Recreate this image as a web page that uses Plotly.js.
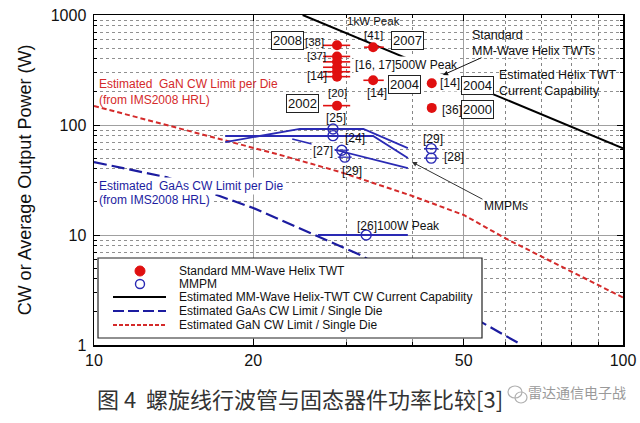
<!DOCTYPE html>
<html><head><meta charset="utf-8">
<script src="https://cdn.plot.ly/plotly-3.0.1.min.js"></script>
<style>html,body{margin:0;padding:0;background:#fff}#chart{width:640px;height:423px}</style>
</head><body><div id="chart"></div>
<script>
// ---------------- data ----------------
const xTickVals = [10, 20, 50, 100];
const xTickText = ['10', '20', '50', '100'];
const yTickVals = [1, 10, 100, 1000];
const yTickText = ['1', '10', '100', '1000'];
const xMinorVals = [30, 40, 60, 70, 80, 90];
const yMinorVals = [2,3,4,5,6,7,8,9,20,30,40,50,60,70,80,90,200,300,400,500,600,700,800,900];

// Estimated GaN CW limit / single die (red dashed)
const ganF = [10, 22.5, 29.2, 40, 50, 60, 100];
const ganP = [149, 53.4, 37.4, 22.6, 15.2, 9.3, 2.7];
// Estimated GaAs CW limit / single die (blue dashed)
const gaasF = [10, 13.7, 20, 22.5, 31.8, 54.4, 64.4];
const gaasP = [46, 33.6, 17.6, 13.7, 6.6, 1.58, 1.0];
// Estimated MM-Wave helix TWT CW current capability (black)
const helixF = [24.8, 100];
const helixP = [1000, 61.5];
// MMPM bands (blue solid)
const mmpmAF = [17.7, 24.5, 32.3, 39.2];
const mmpmAP = [70, 92, 92, 61.6];
const mmpmBF = [17.7, 33.7, 39.2];
const mmpmBP = [79.4, 79.4, 50];
const mmpmCF = [23.7, 39.2];
const mmpmCP = [74.6, 40.6];
const mmpm26F = [26.5, 39.2];
const mmpm26P = [10, 10];
// Standard MM-wave helix TWTs (red points, with frequency span)
const twtF = [28.8, 28.8, 28.8, 28.8, 28.8, 28.8, 33.7, 33.7, 28.8, 43.5, 43.5];
const twtP = [530, 420, 375, 335, 305, 275, 510, 255, 150, 240, 143];
const twtSpanMinus = [1.7, 1.7, 1.7, 1.7, 1.7, 1.7, 1.3, 1.4, 1.7, 0, 0];
const twtSpanPlus  = [1.7, 1.7, 1.7, 1.7, 1.7, 1.7, 1.6, 1.6, 1.7, 0, 0];
// MMPM points (blue open circles)
const mmpmF = [28.3, 28.3, 29.4, 29.8, 43.4, 43.4, 32.7];
const mmpmP = [92, 80, 59, 51, 61, 50, 10];
const mmpmSpan = [0.9, 0.9, 0.9, 0.9, 1.35, 1.35, 0];

// ---------------- layout helpers (pixel -> paper) ----------------
const L = 94, R = 623, T = 15, B = 345;
const px = p => (p - L) / (R - L);
const py = p => (B - p) / (B - T);
const FONT = 'Liberation Sans, Arial, Helvetica, sans-serif';
const RED = '#e01010', BLUE = '#2a2ab4', DBLUE = '#1c1ca0', GANRED = '#d42a2a';

const traces = [
  {x: ganF, y: ganP, mode: 'lines', line: {color: GANRED, width: 2, dash: '5px,3px'}, hoverinfo: 'skip'},
  {x: gaasF, y: gaasP, mode: 'lines', line: {color: DBLUE, width: 2.2, dash: '13px,5px'}, hoverinfo: 'skip'},
  {x: helixF, y: helixP, mode: 'lines', line: {color: '#000', width: 2}, hoverinfo: 'skip'},
  {x: mmpmAF, y: mmpmAP, mode: 'lines', line: {color: BLUE, width: 1.8}},
  {x: mmpmBF, y: mmpmBP, mode: 'lines', line: {color: BLUE, width: 1.8}},
  {x: mmpmCF, y: mmpmCP, mode: 'lines', line: {color: BLUE, width: 1.8}},
  {x: mmpm26F, y: mmpm26P, mode: 'lines', line: {color: BLUE, width: 1.8}},
  {x: twtF, y: twtP, mode: 'markers', marker: {color: RED, size: 10},
   error_x: {type: 'data', symmetric: false, array: twtSpanPlus, arrayminus: twtSpanMinus, color: RED, thickness: 1.6, width: 0}},
  {x: mmpmF, y: mmpmP, mode: 'markers', marker: {symbol: 'circle-open', color: BLUE, size: 10, line: {width: 1.4}},
   error_x: {type: 'data', array: mmpmSpan, color: BLUE, thickness: 1.3, width: 0}}
];

function txt(t, x, y, opt) {
  return Object.assign({xref: 'paper', yref: 'paper', x: px(x), y: py(y), text: t, showarrow: false,
    font: {family: FONT, size: 12, color: '#111'}, xanchor: 'center', yanchor: 'middle'}, opt || {});
}
function boxed(t, x, y) {
  return txt(t, x, y, {bordercolor: '#222', borderwidth: 1, borderpad: 1, bgcolor: '#fff', font: {family: FONT, size: 13, color: '#111'}});
}
const SM = {family: FONT, size: 11.5, color: '#111'};

const annotations = [
  txt('1kW Peak', 373, 21, {font: SM}),
  txt('[41]', 373, 35, {font: SM}),
  boxed('2007', 407, 41),
  boxed('2008', 287, 40),
  txt('[38]', 314, 42, {font: SM}),
  txt('[37]', 316, 56, {font: SM}),
  txt('[16, 17]500W Peak', 353, 65, {xanchor: 'left', bgcolor: '#fff'}),
  txt('[14]', 317, 76),
  txt('[14]', 377, 93),
  boxed('2004', 404, 84),
  boxed('2002', 302, 103),
  txt('[20]', 337, 93, {font: SM}),
  txt('[25]', 336, 118),
  txt('Standard<br>MM-Wave Helix TWTs', 470, 43, {xanchor: 'left', align: 'left', font: {family: FONT, size: 12.5, color: '#111'}}),
  txt('[14]', 450, 83, {bgcolor: '#fff'}),
  boxed('2004', 477, 85),
  txt('Estimated Helix TWT<br>Current Capability', 497, 83, {xanchor: 'left', align: 'left', font: {family: FONT, size: 12.5, color: '#111'}}),
  txt('[36]', 452, 110),
  boxed('2000', 477, 110),
  txt('Estimated  GaN CW Limit per Die<br>(from IMS2008 HRL)', 97, 92, {xanchor: 'left', align: 'left', font: {family: FONT, size: 12, color: GANRED}}),
  txt('Estimated  GaAs CW Limit per Die', 97, 186, {xanchor: 'left', bgcolor: '#fff', font: {family: FONT, size: 12, color: DBLUE}}),
  txt('(from IMS2008 HRL)', 97, 200, {xanchor: 'left', bgcolor: '#fff', font: {family: FONT, size: 12, color: DBLUE}}),
  txt('[24]', 355, 138),
  txt('[27]', 323, 151, {bgcolor: '#fff'}),
  txt('[29]', 352, 171),
  txt('[29]', 433, 139),
  txt('[28]', 454, 157),
  txt('MMPMs', 506, 206),
  txt('[26]100W Peak', 398, 226),
  // arrows
  {xref: 'paper', yref: 'paper', x: px(443), y: py(75), ax: 40, ay: -18,
   text: '', showarrow: true, arrowhead: 2, arrowsize: 1, arrowwidth: 1, arrowcolor: '#111'},
  {xref: 'paper', yref: 'paper', x: px(412), y: py(162), ax: 72, ay: 38,
   text: '', showarrow: true, arrowhead: 2, arrowsize: 1, arrowwidth: 1, arrowcolor: '#333'},
  // legend texts
  txt('Standard MM-Wave Helix TWT', 177, 271, {xanchor: 'left'}),
  txt('MMPM', 177, 284, {xanchor: 'left'}),
  txt('Estimated MM-Wave Helix-TWT CW Current Capability', 177, 297, {xanchor: 'left'}),
  txt('Estimated GaAs CW Limit / Single Die', 177, 311, {xanchor: 'left'}),
  txt('Estimated GaN CW Limit / Single Die', 177, 325, {xanchor: 'left'}),
  // caption & watermark
  txt('图 4  螺旋线行波管与固态器件功率比较[3]', 95, 398, {xanchor: 'left',
    font: {family: 'Noto Sans CJK SC, sans-serif', size: 22, color: '#333'}}),
  txt('雷达通信电子战', 577, 392, {font: {family: 'Noto Sans CJK SC, sans-serif', size: 14, color: '#9a9a9a'}})
];

const shapes = [
  // legend box
  {type: 'rect', xref: 'paper', yref: 'paper', x0: px(98), x1: px(482), y0: py(258), y1: py(338),
   fillcolor: '#fff', line: {color: '#222', width: 1.2}, layer: 'above'},
  {type: 'circle', xref: 'paper', yref: 'paper', x0: px(135), x1: px(145), y0: py(266), y1: py(276),
   fillcolor: RED, line: {color: RED, width: 1}, layer: 'above'},
  {type: 'circle', xref: 'paper', yref: 'paper', x0: px(135.5), x1: px(144.5), y0: py(279.5), y1: py(288.5),
   fillcolor: 'rgba(0,0,0,0)', line: {color: BLUE, width: 1.4}, layer: 'above'},
  {type: 'line', xref: 'paper', yref: 'paper', x0: px(113), x1: px(166), y0: py(297), y1: py(297),
   line: {color: '#000', width: 2}, layer: 'above'},
  {type: 'line', xref: 'paper', yref: 'paper', x0: px(113), x1: px(166), y0: py(311), y1: py(311),
   line: {color: DBLUE, width: 2.2, dash: '11px,4px'}, layer: 'above'},
  {type: 'line', xref: 'paper', yref: 'paper', x0: px(113), x1: px(166), y0: py(325), y1: py(325),
   line: {color: GANRED, width: 2, dash: '4px,2px'}, layer: 'above'},
  // watermark icon
  {type: 'circle', xref: 'paper', yref: 'paper', x0: px(508), x1: px(522), y0: py(386), y1: py(398),
   fillcolor: 'rgba(0,0,0,0)', line: {color: '#b0b0b0', width: 1.2}},
  {type: 'circle', xref: 'paper', yref: 'paper', x0: px(515), x1: px(527), y0: py(392), y1: py(403),
   fillcolor: 'rgba(0,0,0,0)', line: {color: '#b0b0b0', width: 1.2}}
];

const axisCommon = {
  type: 'log', showline: true, linecolor: '#000', linewidth: 1.5, mirror: 'allticks',
  ticks: 'inside', ticklen: 6, tickcolor: '#000', tickwidth: 1,
  showgrid: true, gridcolor: '#a0a0a0', gridwidth: 1, zeroline: false,
  tickfont: {family: FONT, size: 16, color: '#111'}, tickmode: 'array'
};

const layout = {
  width: 640, height: 423,
  margin: {l: L, r: 640 - R, t: T, b: 423 - B, pad: 0},
  paper_bgcolor: '#fff', plot_bgcolor: '#fff', showlegend: false,
  font: {family: FONT},
  xaxis: Object.assign({}, axisCommon, {range: [1, 2], tickvals: xTickVals, ticktext: xTickText,
    minor: {tickmode: 'array', tickvals: xMinorVals, ticks: 'inside', ticklen: 3, tickcolor: '#000',
      showgrid: true, gridcolor: '#858585', griddash: 'dot', gridwidth: 1}}),
  yaxis: Object.assign({}, axisCommon, {range: [0, 3], tickvals: yTickVals, ticktext: yTickText,
    ticklabelstandoff: 3,
    title: {text: 'CW or Average Output Power (W)', font: {family: FONT, size: 18, color: '#111'}, standoff: 14},
    minor: {tickmode: 'array', tickvals: yMinorVals, ticks: 'inside', ticklen: 3, tickcolor: '#000',
      showgrid: true, gridcolor: '#909090', griddash: 'dot', gridwidth: 1}}),
  annotations: annotations,
  shapes: shapes
};

Plotly.newPlot('chart', traces, layout, {displayModeBar: false, staticPlot: true});
</script></body></html>
